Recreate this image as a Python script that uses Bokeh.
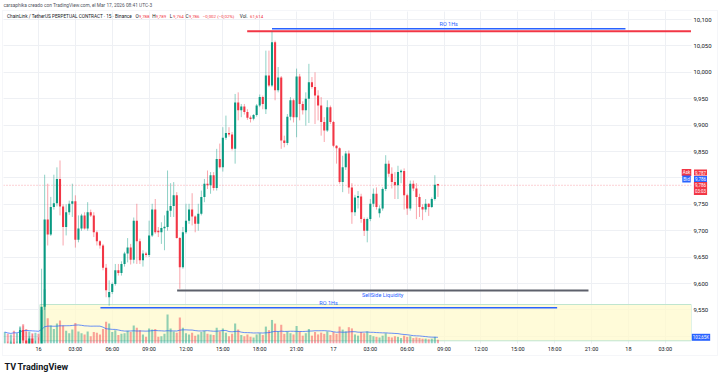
import numpy as np
import pandas as pd
from bokeh.plotting import figure
from bokeh.models import (Range1d, FixedTicker, CustomJSTickFormatter, Label,
                          BoxAnnotation, ColumnDataSource)
from bokeh.core.properties import value
from bokeh.embed import file_html
from bokeh.resources import INLINE

# ---------------- data (LINK/USDT perp, 15 min) ----------------
opens = [9.470, 9.480, 9.472, 9.488, 9.476, 9.484, 9.512, 9.492, 9.478, 9.496, 9.480, 9.486,
         9.478, 9.556, 9.721, 9.693, 9.745, 9.752, 9.798, 9.746, 9.707, 9.735, 9.751, 9.756, 9.683, 9.704,
         9.729, 9.704, 9.735, 9.729, 9.697, 9.680, 9.672, 9.630, 9.574, 9.584, 9.599, 9.625, 9.620, 9.637,
         9.657, 9.668, 9.645,
         9.719, 9.680, 9.644, 9.657, 9.654, 9.691, 9.740, 9.700, 9.697, 9.705, 9.707, 9.738, 9.747, 9.767,
         9.686, 9.631, 9.697, 9.719, 9.740, 9.727, 9.713, 9.732, 9.764, 9.789, 9.786, 9.805, 9.781, 9.836,
         9.820, 9.876, 9.885, 9.882, 9.855, 9.943, 9.928, 9.935, 9.925,
         9.914, 9.912, 9.919, 9.937, 9.953, 9.930, 9.994, 9.975, 10.057, 9.966, 9.990, 9.871, 9.866, 9.916,
         9.947, 9.915, 9.992, 9.940, 9.928, 9.950, 9.981, 9.972, 9.956, 9.937, 9.906, 9.890, 9.934, 9.906,
         9.861, 9.856, 9.792,
         9.820, 9.846, 9.782, 9.735, 9.763, 9.765, 9.722, 9.700, 9.722, 9.751, 9.770, 9.733, 9.742, 9.779,
         9.827, 9.808, 9.792, 9.786, 9.811, 9.813, 9.767, 9.742, 9.789, 9.780, 9.764, 9.745, 9.740, 9.751,
         9.745, 9.760, 9.788]
highs = [9.486, 9.490, 9.492, 9.496, 9.490, 9.516, 9.520, 9.508, 9.500, 9.504, 9.492, 9.498,
         9.628, 9.806, 9.789, 9.764, 9.806, 9.820, 9.833, 9.750, 9.750, 9.757, 9.789, 9.767, 9.729, 9.732,
         9.735, 9.754, 9.740, 9.735, 9.700, 9.682, 9.675, 9.637, 9.606, 9.602, 9.637, 9.637, 9.642, 9.660,
         9.686, 9.675, 9.725,
         9.751, 9.685, 9.663, 9.660, 9.719, 9.751, 9.760, 9.707, 9.716, 9.729, 9.814, 9.790, 9.792, 9.773,
         9.688, 9.707, 9.751, 9.751, 9.771, 9.729, 9.751, 9.776, 9.798, 9.814, 9.811, 9.811, 9.855, 9.865,
         9.896, 9.918, 9.896, 9.887, 9.959, 9.962, 9.940, 9.940, 9.930,
         9.918, 9.921, 9.940, 9.958, 9.956, 10.041, 10.041, 10.077, 10.060, 10.010, 9.993, 9.880, 9.921, 9.953,
         9.950, 10.007, 9.997, 9.945, 9.962, 10.016, 9.991, 10.000, 9.966, 9.953, 9.915, 9.947, 9.937, 9.908,
         9.862, 9.858, 9.842,
         9.851, 9.852, 9.790, 9.768, 9.775, 9.770, 9.725, 9.725, 9.760, 9.780, 9.782, 9.748, 9.782, 9.843,
         9.833, 9.820, 9.811, 9.823, 9.816, 9.818, 9.770, 9.795, 9.795, 9.790, 9.770, 9.750, 9.760, 9.752,
         9.763, 9.805, 9.789]
lows = [9.458, 9.466, 9.464, 9.470, 9.468, 9.478, 9.486, 9.470, 9.468, 9.474, 9.466, 9.472,
        9.470, 9.550, 9.672, 9.690, 9.740, 9.746, 9.729, 9.672, 9.691, 9.730, 9.726, 9.668, 9.678, 9.700,
        9.702, 9.700, 9.726, 9.688, 9.672, 9.666, 9.625, 9.574, 9.558, 9.580, 9.596, 9.615, 9.615, 9.632,
        9.640, 9.636, 9.638,
        9.637, 9.637, 9.632, 9.650, 9.650, 9.688, 9.694, 9.688, 9.675, 9.663, 9.700, 9.726, 9.726, 9.685,
        9.590, 9.628, 9.694, 9.713, 9.710, 9.697, 9.700, 9.729, 9.754, 9.779, 9.770, 9.776, 9.776, 9.818,
        9.812, 9.872, 9.878, 9.852, 9.827, 9.909, 9.915, 9.920, 9.910,
        9.905, 9.909, 9.916, 9.934, 9.930, 9.921, 9.972, 9.972, 9.947, 9.962, 9.855, 9.858, 9.862, 9.909,
        9.905, 9.877, 9.909, 9.920, 9.899, 9.904, 9.969, 9.902, 9.909, 9.880, 9.868, 9.887, 9.902, 9.858,
        9.827, 9.789, 9.773,
        9.815, 9.770, 9.713, 9.728, 9.742, 9.715, 9.690, 9.678, 9.718, 9.745, 9.740, 9.725, 9.738, 9.775,
        9.802, 9.780, 9.760, 9.760, 9.790, 9.740, 9.730, 9.738, 9.775, 9.722, 9.726, 9.720, 9.735, 9.728,
        9.743, 9.757, 9.764]
closes = [9.480, 9.472, 9.488, 9.476, 9.484, 9.512, 9.492, 9.478, 9.496, 9.480, 9.486, 9.478,
          9.556, 9.721, 9.693, 9.745, 9.752, 9.798, 9.746, 9.707, 9.735, 9.751, 9.756, 9.683, 9.704, 9.729,
          9.704, 9.735, 9.729, 9.697, 9.680, 9.672, 9.630, 9.587, 9.584, 9.599, 9.625, 9.620, 9.637, 9.657,
          9.668, 9.645, 9.719,
          9.680, 9.644, 9.657, 9.654, 9.691, 9.740, 9.697, 9.697, 9.705, 9.707, 9.738, 9.747, 9.767, 9.686,
          9.631, 9.697, 9.719, 9.740, 9.727, 9.713, 9.732, 9.764, 9.789, 9.786, 9.805, 9.781, 9.836, 9.820,
          9.876, 9.885, 9.882, 9.855, 9.943, 9.928, 9.935, 9.925, 9.914,
          9.912, 9.919, 9.937, 9.953, 9.940, 9.994, 9.975, 10.057, 9.966, 9.990, 9.871, 9.866, 9.916, 9.947,
          9.915, 9.992, 9.940, 9.928, 9.950, 9.981, 9.972, 9.956, 9.937, 9.906, 9.890, 9.934, 9.906, 9.861,
          9.856, 9.792, 9.820,
          9.846, 9.782, 9.735, 9.763, 9.765, 9.722, 9.700, 9.722, 9.751, 9.770, 9.745, 9.742, 9.779, 9.827,
          9.808, 9.792, 9.786, 9.811, 9.813, 9.767, 9.742, 9.789, 9.780, 9.764, 9.745, 9.740, 9.751, 9.745,
          9.760, 9.787, 9.786]
volumes_k = [190, 160, 150, 210, 170, 280, 320, 240, 200, 170, 180, 160,
             560, 900, 420, 300, 240, 330, 380, 300, 210, 170, 230, 340, 200, 170, 150, 200, 120, 190,
             180, 150, 240, 360, 330, 190, 220, 140, 160, 170, 210, 190, 300,
             260, 220, 150, 110, 250, 230, 240, 110, 120, 160, 480, 250, 200, 180, 430, 260, 170, 150,
             180, 130, 150, 190, 210, 160, 150, 140, 260, 200, 250, 180, 120, 160, 330, 230, 140, 120, 150,
             110, 100, 150, 170, 140, 280, 220, 390, 330, 200, 310, 160, 200, 170, 150, 290, 200, 130,
             170, 240, 130, 190, 150, 180, 160, 200, 140, 190, 160, 280, 230,
             200, 270, 250, 150, 130, 190, 170, 200, 140, 120, 110, 100, 130, 170, 110, 100, 120, 110,
             90, 130, 110, 120, 90, 100, 90, 80, 80, 70, 80, 110, 62]

last_candle_hour = 32.5          # 17 Mar 08:30, hours after 16 Mar 00:00
time_ticks = list(range(0, 52, 3))
time_labels = ["16", "03:00", "06:00", "09:00", "12:00", "15:00", "18:00", "21:00",
               "17", "03:00", "06:00", "09:00", "12:00", "15:00", "18:00", "21:00",
               "18", "03:00"]
price_ticks = [9.50, 9.55, 9.60, 9.65, 9.70, 9.75, 9.80, 9.85, 9.90, 9.95, 10.00, 10.05, 10.10]
price_ticks_hidden = [9.50, 9.80]

# drawn levels
level_price = [10.0776, 10.0825, 9.5867, 9.5540]
level_start = [16.98, 19.0, 11.28, 5.04]
level_end = [53.09, 47.76, 44.75, 42.2]
level_color = ["#f23645", "#2962ff", "#5d606b", "#2962ff"]
level_width = [2.0, 1.5, 2.0, 1.5]
level_text = ["RO 1Hs", "SellSide Liquidity", "RO 1Hs"]
level_text_x = [33.38, 28.0, 23.6]
level_text_y = [10.0924, 9.5782, 9.5634]
zone_left, zone_bottom, zone_top = 0.12, 9.4915, 9.5602
last_price = 9.786

# ---------------- layout constants (canvas px <-> data) ----------------
W, H = 720, 378
PANE_L, PANE_R, PANE_T, PANE_B = 3, 691, 11, 343
X0, PXH = 38.0, 12.29            # canvas x of hour 0, px per hour
PTOP, PTOP_Y, PXP = 10.100, 19.0, 528.0
VOL_PX_PER_K = 0.0604


def hx(cx):
    return (cx - X0) / PXH


def py(cy):
    return PTOP - (cy - PTOP_Y) / PXP


FONT = "Roboto"
GREEN, RED, BLUE = "#089981", "#f23645", "#2962ff"

n = len(opens)
t = [last_candle_hour - 0.25 * (n - 1 - i) for i in range(n)]
df = pd.DataFrame(dict(t=t, o=opens, h=highs, l=lows, c=closes, vol=volumes_k))
df["color"] = np.where(df.c >= df.o, GREEN, RED)
top = df[["o", "c"]].max(axis=1)
bot = df[["o", "c"]].min(axis=1)
mid = (top + bot) / 2
minh = 1.6 / PXP
small = (top - bot) < minh
df["top"] = np.where(small, mid + minh / 2, top)
df["bot"] = np.where(small, mid - minh / 2, bot)
df["vol_ma"] = df.vol.rolling(20, min_periods=1).mean()
src = ColumnDataSource(df)

p = figure(width=W, height=H, x_range=Range1d(hx(0), hx(W)), y_range=Range1d(py(H), py(0)),
           y_axis_location="right", toolbar_location=None, output_backend="svg",
           min_border_left=0, min_border_right=0, min_border_top=0, min_border_bottom=0)
p.outline_line_color = None
p.extra_y_ranges = {"vol": Range1d(-(H - PANE_B) / VOL_PX_PER_K, PANE_B / VOL_PX_PER_K)}

# grids
p.xgrid.ticker = FixedTicker(ticks=time_ticks)
p.ygrid.ticker = FixedTicker(ticks=price_ticks)
p.xgrid.grid_line_color = "#eef0f4"
p.ygrid.grid_line_color = "#eef0f4"

# axes (placed at the pane edges)
ya = p.yaxis[0]
ya.fixed_location = hx(PANE_R)
ya.ticker = FixedTicker(ticks=[v for v in price_ticks if v not in price_ticks_hidden])
ya.formatter = CustomJSTickFormatter(code="return tick.toFixed(3).replace('.', ',');")
xa = p.xaxis[0]
xa.fixed_location = py(PANE_B)
xa.ticker = FixedTicker(ticks=time_ticks)
xa.major_label_overrides = {k: v for k, v in zip(time_ticks, time_labels)}
for ax in (xa, ya):
    ax.axis_line_color = None
    ax.major_tick_line_color = None
    ax.minor_tick_line_color = None
    ax.major_tick_in = 0
    ax.major_tick_out = 0
    ax.major_label_text_font = FONT
    ax.major_label_text_font_size = "6px"
    ax.major_label_text_color = "#131722"
    ax.major_label_standoff = 2
xa.major_label_text_font_size = "5.5px"

# zone
p.quad(left=zone_left, right=hx(PANE_R), bottom=zone_bottom, top=zone_top,
       fill_color="#fff9cc", fill_alpha=0.75, line_color="#bfe5cf", line_width=1)

# volume
p.vbar(x="t", width=0.17, top="vol", bottom=0, y_range_name="vol", source=src,
       fill_color="color", fill_alpha=0.45, line_color=None)
p.line(x="t", y="vol_ma", y_range_name="vol", source=src, line_color=BLUE, line_width=1, line_alpha=0.7)

# levels
p.segment(x0=level_start, x1=level_end, y0=level_price, y1=level_price,
          line_color=level_color, line_width=level_width)
p.text(x=level_text_x, y=level_text_y, text=level_text, text_font=value(FONT),
       text_font_size="5.5px", text_color=BLUE, text_align="center", text_baseline="middle")

# last price line
p.segment(x0=[hx(PANE_L)], x1=[hx(PANE_R)], y0=[last_price], y1=[last_price], line_color=RED,
          line_alpha=0.45, line_dash="1 2", line_width=1)

# candles
p.segment(x0="t", x1="t", y0="l", y1="h", source=src, line_color="color", line_alpha=0.45, line_width=1)
p.vbar(x="t", width=0.17, top="top", bottom="bot", source=src, fill_color="color", line_color=None)

# white margins outside the pane (price scale, time scale, header)
xl, xr, yb, yt = hx(-2), hx(W + 2), py(H + 2), py(-2)
p.quad(left=[hx(PANE_R), xl, xl, xl], right=[xr, xr, xr, hx(PANE_L)],
       bottom=[yb, yb, py(PANE_T), yb], top=[yt, py(PANE_B), yt, yt],
       fill_color="white", line_color=None)

# outer frame of the widget
p.add_layout(BoxAnnotation(left=hx(2), right=hx(717), top=py(10), bottom=py(355),
                           fill_alpha=0, line_color="#dfe2ea", line_width=1))


def clabel(cx, cy, text, size="5px", color="#131722", align="left", bg=None, style="normal", pad=0):
    kw = dict(x=cx, y=H - cy, x_units="screen", y_units="screen", text=text,
              text_font=FONT, text_font_size=size, text_color=color, text_align=align,
              text_baseline="middle", text_font_style=style)
    if bg is not None:
        kw.update(background_fill_color=bg, padding=pad)
    p.add_layout(Label(**kw))


# header & legend
LEG = "4.7px"
NUM = "4.4px"
clabel(3, 5.2, "carsaphika creado con TradingView.com, el Mar 17, 2026 08:41 UTC-3", size="4.8px",
       color="#50535e")
clabel(6.5, 15.8, "ChainLink / TetherUS PERPETUAL CONTRACT · 15 · Binance", size=LEG)
for x_, lt, val in [(135, "O", "9,788"), (151.7, "H", "9,789"), (169.3, "L", "9,764"), (185, "C", "9,786")]:
    clabel(x_, 15.8, lt, size=LEG)
    clabel(x_ + 3.3, 15.8, val, size=NUM, color=RED)
clabel(202.3, 15.8, "−0,002 (−0,02%)", size=NUM, color=RED)
clabel(239.3, 15.8, "Vol.", size=LEG)
clabel(249.5, 15.8, "61,614", size=NUM, color=RED)

# price-scale tags
clabel(686, 172, "Ask", size="4.5px", color="white", align="center", bg=RED, pad=1)
clabel(700, 172, "9,787", size="4.5px", color="white", align="center", bg=RED, pad=1)
clabel(686, 178.6, "Bid", size="4.5px", color="white", align="center", bg=BLUE, pad=1)
clabel(700, 178.6, "9,786", size="4.5px", color="white", align="center", bg=BLUE, pad=1)
clabel(700, 188, "9,786\n03:03", size="4.5px", color="white", align="center", bg=RED, pad=1)
clabel(700.5, 336.8, "102,65K", size="4.5px", color="white", align="center", bg=BLUE, pad=1)

# watermark logo
clabel(4, 366, "TV", size="9px", color="#131722", style="bold")
clabel(17, 366, "TradingView", size="9px", color="#131722", style="bold")

open("out.html", "w").write(file_html(p, INLINE))
